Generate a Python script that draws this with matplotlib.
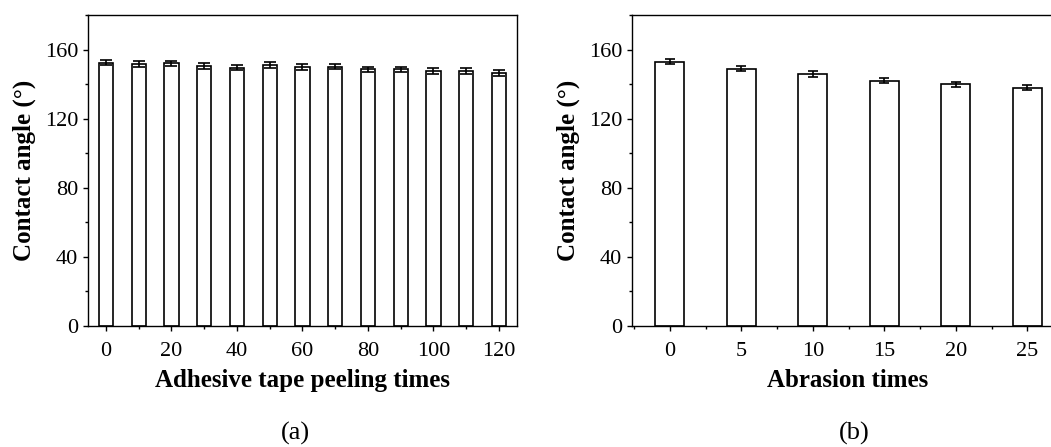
import matplotlib
matplotlib.use("Agg")
import matplotlib.pyplot as plt
from matplotlib.ticker import MultipleLocator

# (a) adhesive tape peeling
peel_times = [0, 10, 20, 30, 40, 50, 60, 70, 80, 90, 100, 110, 120]
peel_angle = [152.5, 151.5, 152, 150.5, 149.5, 151, 150, 150, 148.5, 148.5, 147.5, 147.5, 146.5]
peel_err = [1.6, 1.6, 1.6, 1.5, 1.6, 1.6, 1.6, 1.4, 1.6, 1.6, 1.6, 1.6, 1.6]

# (b) abrasion
abr_times = [0, 5, 10, 15, 20, 25]
abr_angle = [153, 149, 146, 142, 140, 138]
abr_err = [1.5, 1.6, 1.6, 1.4, 1.4, 1.6]

plt.rcParams['font.family'] = ['Liberation Serif', 'DejaVu Serif']
plt.rcParams['axes.linewidth'] = 1.0

fig = plt.figure(figsize=(10.51, 4.47), dpi=100)
ax1 = fig.add_axes([0.0837, 0.2707, 0.4082, 0.6957])
ax2 = fig.add_axes([0.6013, 0.2707, 0.4101, 0.6957])  # right edge runs off the figure


def draw_panel(ax, x, y, err, width, capsize):
    ax.bar(x, y, width=width, color='white', edgecolor='black', linewidth=1.2, zorder=2)
    ax.errorbar(x, y, yerr=err, fmt='none', ecolor='black', elinewidth=1.2,
                capsize=capsize, capthick=1.2, zorder=3)
    ax.set_ylim(0, 180)
    ax.yaxis.set_major_locator(MultipleLocator(40))
    ax.yaxis.set_minor_locator(MultipleLocator(20))
    ax.tick_params(which='major', direction='out', length=3.6, width=1.0, labelsize=16)
    ax.tick_params(which='minor', direction='out', length=2.2, width=1.0)
    ax.tick_params(axis='y', which='major', pad=3.5)
    ax.tick_params(axis='x', which='major', pad=8)
    ax.set_ylabel('Contact angle (°)', fontsize=18, fontweight='bold', labelpad=6)


draw_panel(ax1, peel_times, peel_angle, peel_err, 4.3, 4.5)
ax1.set_xlim(-5.5, 125.5)
ax1.xaxis.set_major_locator(MultipleLocator(20))
ax1.xaxis.set_minor_locator(MultipleLocator(10))
ax1.set_xlabel('Adhesive tape peeling times', fontsize=18, fontweight='bold', labelpad=6)

draw_panel(ax2, abr_times, abr_angle, abr_err, 2.03, 3.6)
ax2.set_xlim(-2.65, 27.5)
ax2.xaxis.set_major_locator(MultipleLocator(5))
ax2.xaxis.set_minor_locator(MultipleLocator(2.5))
ax2.set_xlabel('Abrasion times', fontsize=18, fontweight='bold', labelpad=6)

fig.text(0.281, 0.031, '(a)', fontsize=19, ha='center', va='center')
fig.text(0.8126, 0.031, '(b)', fontsize=19, ha='center', va='center')

fig.savefig('out.png', dpi=100)
